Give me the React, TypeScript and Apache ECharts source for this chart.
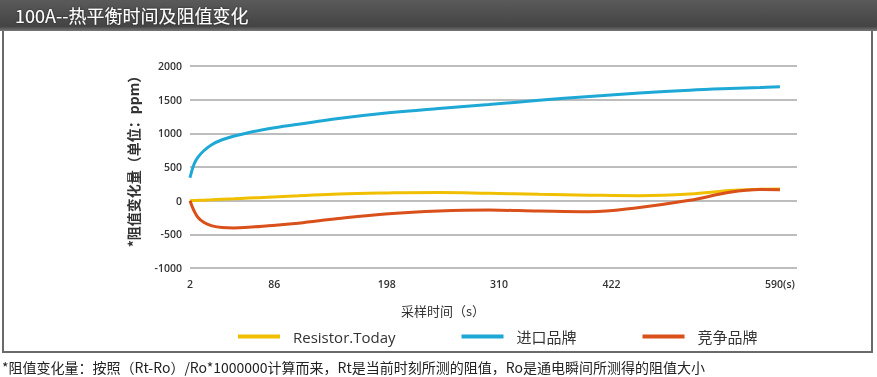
import React, { useEffect, useRef } from "react";
import * as echarts from "echarts";

const titleText = "100A--热平衡时间及阻值变化";
const footnoteText = "*阻值变化量：按照（Rt-Ro）/Ro*1000000计算而来，Rt是当前时刻所测的阻值，Ro是通电瞬间所测得的阻值大小";
const xAxisName = "采样时间（s）";
const yAxisName = "*阻值变化量（单位：ppm）";
const seriesNames = ["Resistor.Today", "进口品牌", "竞争品牌"];
const seriesColors = ["#f0c000", "#1ea8d6", "#d9501a"];

const xTickValues = [2, 86, 198, 310, 422, 590];
const sampleTimes = [2, 6, 10, 16, 24, 34, 46, 60, 80, 110, 150, 200, 250, 300, 350, 400, 450, 500, 540, 570, 590];
const resistorToday = [0, 3, 5, 8, 13, 20, 28, 38, 52, 72, 100, 115, 122, 110, 95, 82, 74, 98, 150, 170, 175];
const importBrand = [340, 540, 645, 745, 835, 905, 960, 1010, 1068, 1135, 1220, 1305, 1370, 1428, 1490, 1548, 1598, 1640, 1665, 1680, 1690];
const competitor = [0, -150, -250, -325, -375, -400, -405, -395, -372, -335, -265, -195, -155, -140, -155, -165, -100, 5, 125, 165, 162];

const allSeries = [resistorToday, importBrand, competitor];

export default function App() {
  const ref = useRef<HTMLDivElement>(null);
  useEffect(() => {
    if (!ref.current) return;
    const chart = echarts.init(ref.current, null, { renderer: "svg" });
    const font = "'Open Sans', 'Noto Sans CJK SC', sans-serif";
    const cjk = "'Noto Sans CJK SC', sans-serif";
    chart.setOption({
      animation: false,
      textStyle: { fontFamily: font },
      graphic: [
        {
          type: "rect",
          shape: { x: 3, y: 30, width: 869, height: 322 },
          style: { fill: "#ffffff", stroke: "#6a6a6a", lineWidth: 2 },
          z: -10,
        },
        {
          type: "rect",
          shape: { x: 0, y: 0, width: 877, height: 31 },
          style: {
            fill: new echarts.graphic.LinearGradient(0, 0, 0, 1, [
              { offset: 0, color: "#5a5a5a" },
              { offset: 0.85, color: "#444444" },
              { offset: 1, color: "#777777" },
            ]),
          },
          z: -9,
        },
        {
          type: "text",
          x: 15,
          y: 15,
          style: {
            text: titleText,
            fill: "#ffffff",
            font: `18px ${cjk}`,
            textVerticalAlign: "middle",
            textShadowColor: "rgba(0,0,0,0.6)",
            textShadowBlur: 2,
          },
        },
        {
          type: "text",
          x: 443,
          y: 310,
          style: {
            text: xAxisName,
            fill: "#333",
            font: `13px ${cjk}`,
            textAlign: "center",
            textVerticalAlign: "middle",
          },
        },
        {
          type: "text",
          x: 2,
          y: 367,
          style: {
            text: footnoteText,
            fill: "#222",
            font: `14px ${cjk}`,
            textVerticalAlign: "middle",
          },
        },
      ],
      grid: { left: 190, right: 80, top: 66, bottom: 109 },
      legend: {
        left: 233,
        top: 324,
        icon: "rect",
        itemWidth: 42,
        itemHeight: 4,
        itemGap: 66,
        data: seriesNames,
        textStyle: { fontSize: 15, color: "#333", padding: [0, 0, 0, 8], fontFamily: font },
      },
      xAxis: {
        type: "value",
        min: 2,
        max: 607,
        axisLine: { show: false },
        axisTick: { show: false },
        splitLine: { show: false },
        axisLabel: {
          customValues: xTickValues,
          margin: 11,
          fontSize: 10.5,
          fontWeight: 600,
          color: "#333",
          formatter: (v: number) => (v === xTickValues[xTickValues.length - 1] ? `${v}(s)` : `${v}`),
        },
      },
      yAxis: {
        type: "value",
        min: -1000,
        max: 2000,
        interval: 500,
        name: yAxisName,
        nameLocation: "middle",
        nameGap: 50,
        nameTextStyle: { fontSize: 14, fontWeight: "bold", color: "#333", fontFamily: cjk, padding: [0, 0, 0, 18] },
        axisLine: { show: false },
        axisTick: { show: false },
        axisLabel: { margin: 8, fontSize: 10.5, fontWeight: 600, color: "#333", formatter: (v: number) => `${v}` },
        splitLine: { lineStyle: { color: "#bdbdbd", width: 2 } },
      },
      series: seriesNames.map((name, i) => ({
        name,
        type: "line",
        smooth: 0.4,
        showSymbol: false,
        symbol: "none",
        color: seriesColors[i],
        lineStyle: { width: 3, color: seriesColors[i] },
        data: sampleTimes.map((t, j) => [t, allSeries[i][j]]),
      })),
    });
    return () => chart.dispose();
  }, []);
  return <div ref={ref} style={{ position: "fixed", left: 0, top: 0, width: 877, height: 377 }} />;
}
